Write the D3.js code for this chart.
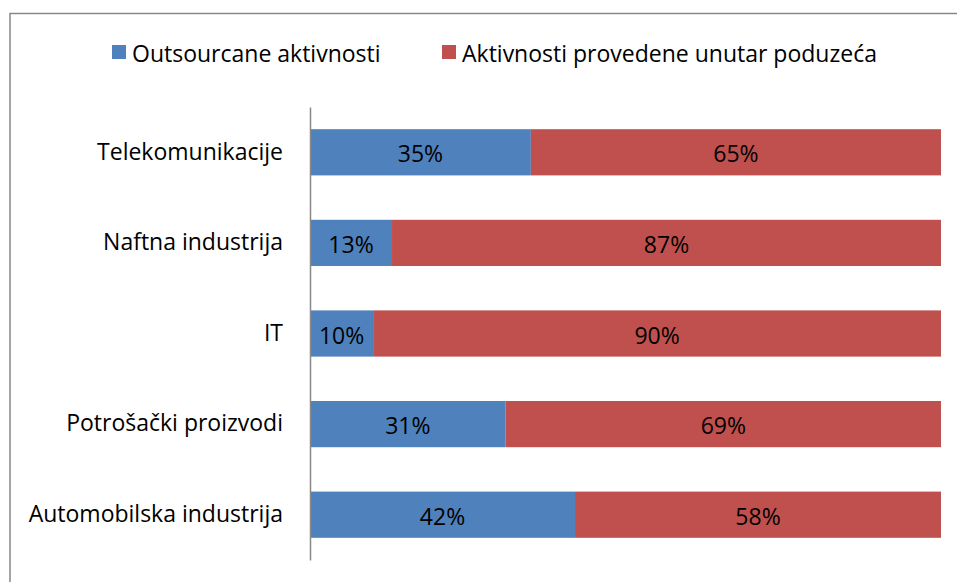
<!DOCTYPE html>
<html>
<head>
<meta charset="utf-8">
<script src="https://cdn.jsdelivr.net/npm/d3@7"></script>
<style>
  body { margin: 0; background: #fff; }
  svg text { font-family: "Open Sans", sans-serif; fill: #000; }
</style>
</head>
<body>
<svg class="grafikon" width="957" height="582"></svg>
<script>
const kategorije = ["Telekomunikacije", "Naftna industrija", "IT", "Potrošački proizvodi", "Automobilska industrija"]
const outsourcane = [35, 13, 10, 31, 42]
const unutar = [65, 87, 90, 69, 58]
const serije = ["Outsourcane aktivnosti", "Aktivnosti provedene unutar poduzeća"]
const boje = ["#4f81bd", "#c0504d"]

const svg = d3.select('.grafikon')

// okvir
svg.append('rect')
  .attr('x', 10).attr('y', 13.5)
  .attr('width', 960).attr('height', 600)
  .attr('fill', 'none')
  .attr('stroke', '#888').attr('stroke-width', 1.5)

const x = d3.scaleLinear().domain([0, 100]).range([310, 941])
const y = d3.scaleBand().domain(kategorije).range([107, 560]).paddingInner(0.49).paddingOuter(0.245)

const podaci = kategorije.map((k, i) => ({k, vrijednosti: [outsourcane[i], unutar[i]]}))
const stog = d3.stack().keys([0, 1]).value((d, key) => d.vrijednosti[key])(podaci)

const grupe = svg.selectAll('g.serija')
  .data(stog)
  .join('g')
  .attr('class', 'serija')
  .attr('fill', (d, i) => boje[i])

grupe.selectAll('rect')
  .data(d => d)
  .join('rect')
  .attr('x', d => x(d[0]))
  .attr('y', d => y(d.data.k))
  .attr('width', d => x(d[1]) - x(d[0]))
  .attr('height', y.bandwidth())

grupe.selectAll('text')
  .data(d => d)
  .join('text')
  .attr('x', d => (x(d[0]) + x(d[1])) / 2)
  .attr('y', d => y(d.data.k) + y.bandwidth() / 2 + 1)
  .attr('text-anchor', 'middle')
  .attr('dominant-baseline', 'central')
  .attr('font-size', 23)
  .text(d => (d[1] - d[0]) + '%')

// os y
const os = svg.append('g')
  .attr('transform', 'translate(310,0)')
  .call(d3.axisLeft(y).tickSize(0).tickPadding(27))
os.select('.domain').attr('stroke', '#888').attr('stroke-width', 1.5)
os.selectAll('.tick text').attr('font-size', 23).style('font-family', '"Open Sans", sans-serif').attr('fill', '#000')

// legenda
const legenda = svg.append('g')
const lx = [112, 442]
serije.forEach((s, i) => {
  legenda.append('rect')
    .attr('x', lx[i]).attr('y', 45).attr('width', 14).attr('height', 14)
    .attr('fill', boje[i])
  legenda.append('text')
    .attr('x', lx[i] + 20).attr('y', 53)
    .attr('dominant-baseline', 'central')
    .attr('font-size', 23)
    .text(s)
})
</script>
</body>
</html>
